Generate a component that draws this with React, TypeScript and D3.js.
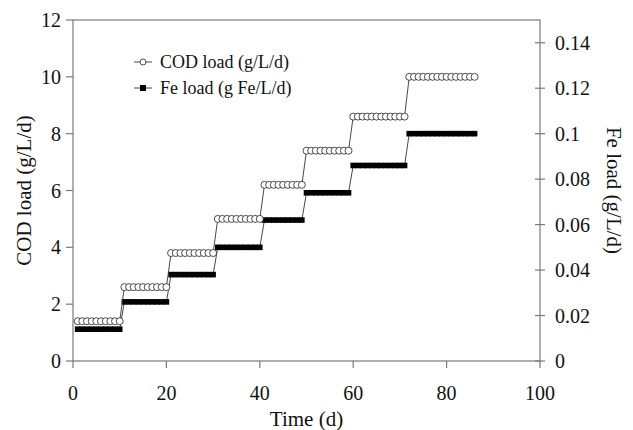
import React from "react";
import * as d3 from "d3";

// Daily reactor loading over the run
const days = [
  1, 2, 3, 4, 5, 6, 7, 8, 9, 10,
  11, 12, 13, 14, 15, 16, 17, 18, 19, 20,
  21, 22, 23, 24, 25, 26, 27, 28, 29, 30,
  31, 32, 33, 34, 35, 36, 37, 38, 39, 40,
  41, 42, 43, 44, 45, 46, 47, 48, 49,
  50, 51, 52, 53, 54, 55, 56, 57, 58, 59,
  60, 61, 62, 63, 64, 65, 66, 67, 68, 69, 70, 71,
  72, 73, 74, 75, 76, 77, 78, 79, 80, 81, 82, 83, 84, 85, 86,
];

const codLoad = [
  1.4, 1.4, 1.4, 1.4, 1.4, 1.4, 1.4, 1.4, 1.4, 1.4,
  2.6, 2.6, 2.6, 2.6, 2.6, 2.6, 2.6, 2.6, 2.6, 2.6,
  3.8, 3.8, 3.8, 3.8, 3.8, 3.8, 3.8, 3.8, 3.8, 3.8,
  5.0, 5.0, 5.0, 5.0, 5.0, 5.0, 5.0, 5.0, 5.0, 5.0,
  6.2, 6.2, 6.2, 6.2, 6.2, 6.2, 6.2, 6.2, 6.2,
  7.4, 7.4, 7.4, 7.4, 7.4, 7.4, 7.4, 7.4, 7.4, 7.4,
  8.6, 8.6, 8.6, 8.6, 8.6, 8.6, 8.6, 8.6, 8.6, 8.6, 8.6, 8.6,
  10, 10, 10, 10, 10, 10, 10, 10, 10, 10, 10, 10, 10, 10, 10,
];

const feLoad = [
  0.014, 0.014, 0.014, 0.014, 0.014, 0.014, 0.014, 0.014, 0.014, 0.014,
  0.026, 0.026, 0.026, 0.026, 0.026, 0.026, 0.026, 0.026, 0.026, 0.026,
  0.038, 0.038, 0.038, 0.038, 0.038, 0.038, 0.038, 0.038, 0.038, 0.038,
  0.05, 0.05, 0.05, 0.05, 0.05, 0.05, 0.05, 0.05, 0.05, 0.05,
  0.062, 0.062, 0.062, 0.062, 0.062, 0.062, 0.062, 0.062, 0.062,
  0.074, 0.074, 0.074, 0.074, 0.074, 0.074, 0.074, 0.074, 0.074, 0.074,
  0.086, 0.086, 0.086, 0.086, 0.086, 0.086, 0.086, 0.086, 0.086, 0.086, 0.086, 0.086,
  0.1, 0.1, 0.1, 0.1, 0.1, 0.1, 0.1, 0.1, 0.1, 0.1, 0.1, 0.1, 0.1, 0.1, 0.1,
];

const xTicks = [0, 20, 40, 60, 80, 100];
const codTicks = [0, 2, 4, 6, 8, 10, 12];
const feTicks = [0, 0.02, 0.04, 0.06, 0.08, 0.1, 0.12, 0.14];

const W = 633;
const H = 430;
const left = 73;
const right = 540;
const top = 20;
const bottom = 361;

const FONT = "'Liberation Serif', 'Times New Roman', serif";
const AXIS = "#7a7a7a";

export default function App() {
  const x = d3.scaleLinear().domain([0, 100]).range([left, right]);
  const yCod = d3.scaleLinear().domain([0, 12]).range([bottom, top]);
  const yFe = d3.scaleLinear().domain([0, 0.15]).range([bottom, top]);

  const codPts = days.map((d, i) => [x(d), yCod(codLoad[i])] as [number, number]);
  const fePts = days.map((d, i) => [x(d), yFe(feLoad[i])] as [number, number]);
  const line = d3.line();

  const sq = 5.6;

  return (
    <svg
      width={W}
      height={H}
      style={{ position: "absolute", left: 0, top: 0, background: "#fff" }}
      fontFamily={FONT}
    >
      {/* frame */}
      <rect x={left} y={top} width={right - left} height={bottom - top} fill="none" stroke={AXIS} strokeWidth={1.2} />

      {/* bottom axis */}
      {xTicks.map((t) => (
        <g key={"x" + t}>
          <line x1={x(t)} x2={x(t)} y1={bottom} y2={bottom + 7} stroke={AXIS} strokeWidth={1.2} />
          <text x={x(t)} y={bottom + 39} textAnchor="middle" fontSize={20} fill="#111">
            {t}
          </text>
        </g>
      ))}
      <text x={(left + right) / 2} y={H - 4} textAnchor="middle" fontSize={21} fill="#111">
        Time (d)
      </text>

      {/* left axis */}
      {codTicks.map((t) => (
        <g key={"l" + t}>
          <line x1={left - 7} x2={left} y1={yCod(t)} y2={yCod(t)} stroke={AXIS} strokeWidth={1.2} />
          <text x={left - 12} y={yCod(t)} dy="0.35em" textAnchor="end" fontSize={20} fill="#111">
            {t}
          </text>
        </g>
      ))}
      <text
        transform={`translate(24, ${(top + bottom) / 2}) rotate(-90)`}
        textAnchor="middle"
        dy="0.35em"
        fontSize={21}
        fill="#111"
      >
        COD load (g/L/d)
      </text>

      {/* right axis */}
      {feTicks.map((t) => (
        <g key={"r" + t}>
          <line x1={right - 5} x2={right + 5} y1={yFe(t)} y2={yFe(t)} stroke={AXIS} strokeWidth={1.2} />
          <text x={right + 15} y={yFe(t)} dy="0.35em" textAnchor="start" fontSize={20} fill="#111">
            {t}
          </text>
        </g>
      ))}
      <text
        transform={`translate(614, ${(top + bottom) / 2}) rotate(90)`}
        textAnchor="middle"
        dy="0.35em"
        fontSize={21}
        fill="#111"
      >
        Fe load (g/L/d)
      </text>

      {/* Fe series */}
      <path d={line(fePts) ?? ""} fill="none" stroke="#333" strokeWidth={0.9} />
      {fePts.map(([px, py], i) => (
        <rect key={"f" + i} x={px - sq / 2} y={py - sq / 2} width={sq} height={sq} fill="#000" />
      ))}

      {/* COD series */}
      <path d={line(codPts) ?? ""} fill="none" stroke="#333" strokeWidth={0.9} />
      {codPts.map(([px, py], i) => (
        <circle key={"c" + i} cx={px} cy={py} r={3.5} fill="#fff" stroke="#222" strokeWidth={0.8} />
      ))}

      {/* legend */}
      <g>
        <line x1={134} x2={152} y1={62} y2={62} stroke="#333" strokeWidth={0.9} />
        <circle cx={143} cy={62} r={3} fill="#fff" stroke="#222" strokeWidth={0.8} />
        <text x={160} y={62} dy="0.35em" fontSize={18} fill="#111">
          COD load (g/L/d)
        </text>
        <line x1={134} x2={152} y1={88} y2={88} stroke="#333" strokeWidth={0.9} />
        <rect x={143 - 3} y={88 - 3} width={6} height={6} fill="#000" />
        <text x={160} y={88} dy="0.35em" fontSize={18} fill="#111">
          Fe load (g Fe/L/d)
        </text>
      </g>
    </svg>
  );
}
